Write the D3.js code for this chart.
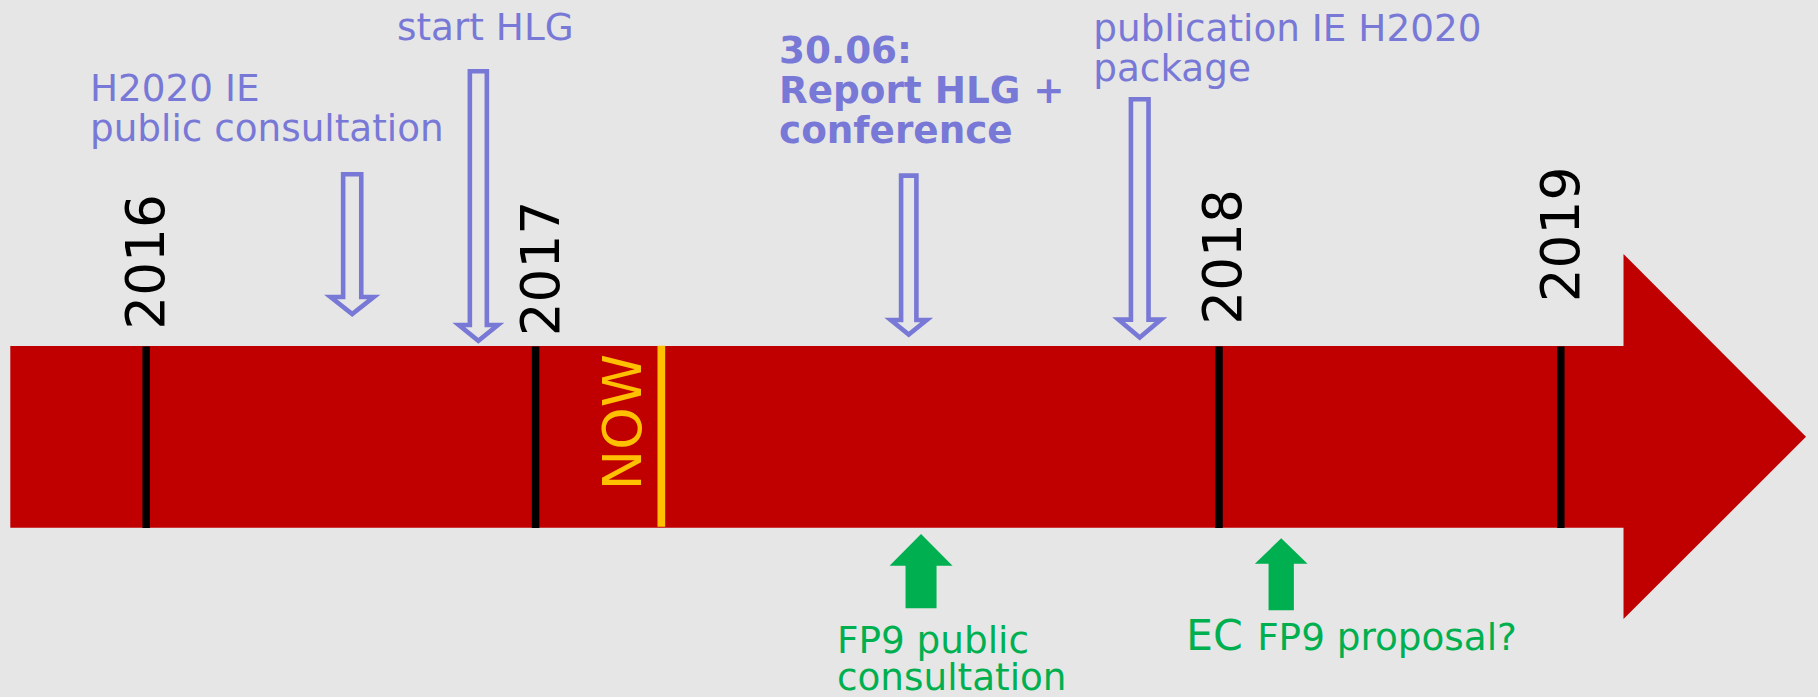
<!DOCTYPE html>
<html><head><meta charset="utf-8">
<script src="https://cdn.jsdelivr.net/npm/d3@7"></script>
<style>html,body{margin:0;padding:0;background:#e6e6e6;overflow:hidden}</style>
</head><body><svg id="c" width="1818" height="697"></svg>
<script>
// ---------- data ----------
const years = [2016, 2017, 2018, 2019];
const yearLabels = ["2016", "2017", "2018", "2019"];
const nowDate = 2017.184;
const nowLabel = "NOW";
const milestoneDates = [2016.529, 2016.853, 2017.546, 2017.884];
const milestoneLabels = [
  ["H2020 IE", "public consultation"],
  ["start HLG"],
  ["30.06:", "Report HLG +", "conference"],
  ["publication IE H2020", "package"]
];
const outlookDates = [2017.564, 2018.182];
const outlookLabels = [
  [["FP9 public"], ["consultation"]],
  [["EC", " FP9 proposal?"]]
];

// ---------- layout / style ----------
const W = 1818, H = 697;
const FONT = "'DejaVu Sans', Verdana, sans-serif";
const RED = "#C00000", PURPLE = "#7878D6", GREEN = "#00B050", ORANGE = "#FFC000";
const x = d3.scaleLinear().domain(years).range([146.2, 535.6, 1219, 1560.8]);
const band = {top: 346, bottom: 527.7, left: 10.3, headX: 1623.5, headTop: 254, headBottom: 619, tipX: 1806};
const yearLayout = [{dx: 18.2, y: 329.7}, {dx: 23.1, y: 336.3}, {dx: 21.8, y: 324.7}, {dx: 18.6, y: 302.3}];
const downGeom = [
  {top: 172, flange: 294.7, tip: 317.3, shaft: 22.7, head: 47.7},
  {top: 69, flange: 322.7, tip: 344, shaft: 21.6, head: 43.6},
  {top: 173.3, flange: 317.7, tip: 337.7, shaft: 19.9, head: 40.4},
  {top: 97, flange: 317.3, tip: 340.7, shaft: 22.2, head: 47.1}
];
const milestoneText = [
  {x: 90, y: [100.7, 140.5], bold: false},
  {x: 397, y: [40], bold: false},
  {x: 779, y: [63.3, 102.5, 142.5], bold: true},
  {x: 1093.3, y: [40.7, 80.5], bold: false}
];
const upGeom = [
  {tip: 534, base: 565.7, bottom: 608.3, shaft: 31, head: 63},
  {tip: 538.3, base: 563.7, bottom: 610.3, shaft: 25.3, head: 52.7}
];
const outlookText = [
  {x: 837, y: [652.7, 689.5], sizes: [[37.33], [37.33]], dx: [[0], [0]]},
  {x: 1186, y: [650], sizes: [[42.7, 37.33]], dx: [[0, 2.5]]}
];

const svg = d3.select("#c");
svg.append("rect").attr("width", W).attr("height", H).attr("fill", "#e6e6e6");

// timeline band with arrow head
const bandPts = [
  [band.left, band.top], [band.headX, band.top], [band.headX, band.headTop],
  [band.tipX, (band.top + band.bottom) / 2], [band.headX, band.headBottom],
  [band.headX, band.bottom], [band.left, band.bottom]
];
svg.append("path").attr("d", d3.line()(bandPts) + "Z").attr("fill", RED);

// year ticks
svg.selectAll("line.year").data(years).join("line")
  .attr("class", "year")
  .attr("x1", d => x(d)).attr("x2", d => x(d))
  .attr("y1", 346.5).attr("y2", 528)
  .attr("stroke", "#000").attr("stroke-width", 7.5);

svg.selectAll("text.year").data(years).join("text")
  .attr("class", "year")
  .attr("transform", (d, i) => `translate(${x(d) + yearLayout[i].dx},${yearLayout[i].y}) rotate(-90)`)
  .attr("font-family", FONT).attr("font-size", 53.3).attr("fill", "#000")
  .text((d, i) => yearLabels[i]);

// NOW marker
svg.append("line")
  .attr("x1", x(nowDate)).attr("x2", x(nowDate))
  .attr("y1", 345.7).attr("y2", 526.7)
  .attr("stroke", ORANGE).attr("stroke-width", 7.7);
svg.append("text")
  .attr("transform", `translate(${x(nowDate) - 20},422) rotate(-90)`)
  .attr("text-anchor", "middle")
  .attr("font-family", FONT).attr("font-size", 54).attr("fill", ORANGE)
  .text(nowLabel);

// hollow purple down arrows
const S = 4.6;
milestoneDates.forEach((d, i) => {
  const g = downGeom[i], cx = x(d);
  const hw = g.shaft / 2 - S / 2, HW = g.head / 2 - S / 2;
  const top = g.top + S / 2, fl = g.flange + S / 2, tip = g.tip - S * 0.707;
  const pts = [[cx - hw, top], [cx + hw, top], [cx + hw, fl], [cx + HW, fl], [cx, tip], [cx - HW, fl], [cx - hw, fl]];
  svg.append("path").attr("d", d3.line()(pts) + "Z")
    .attr("fill", "none").attr("stroke", PURPLE).attr("stroke-width", S)
    .attr("stroke-linejoin", "miter").attr("stroke-miterlimit", 10);
  const t = milestoneText[i];
  const txt = svg.append("text")
    .attr("font-family", FONT).attr("font-size", 37.33).attr("fill", PURPLE)
    .attr("font-weight", t.bold ? "bold" : "normal");
  milestoneLabels[i].forEach((line, j) => {
    txt.append("tspan").attr("x", t.x).attr("y", t.y[j]).text(line);
  });
});

// solid green up arrows
outlookDates.forEach((d, i) => {
  const g = upGeom[i], cx = x(d);
  const hw = g.shaft / 2, HW = g.head / 2;
  const pts = [[cx, g.tip], [cx + HW, g.base], [cx + hw, g.base], [cx + hw, g.bottom],
               [cx - hw, g.bottom], [cx - hw, g.base], [cx - HW, g.base]];
  svg.append("path").attr("d", d3.line()(pts) + "Z").attr("fill", GREEN);
  const t = outlookText[i];
  const txt = svg.append("text").attr("font-family", FONT).attr("fill", GREEN);
  outlookLabels[i].forEach((line, j) => {
    line.forEach((seg, k) => {
      const ts = txt.append("tspan").attr("font-size", t.sizes[j][k]).text(seg);
      if (k === 0) ts.attr("x", t.x).attr("y", t.y[j]);
      else ts.attr("dx", t.dx[j][k]);
    });
  });
});
</script></body></html>
